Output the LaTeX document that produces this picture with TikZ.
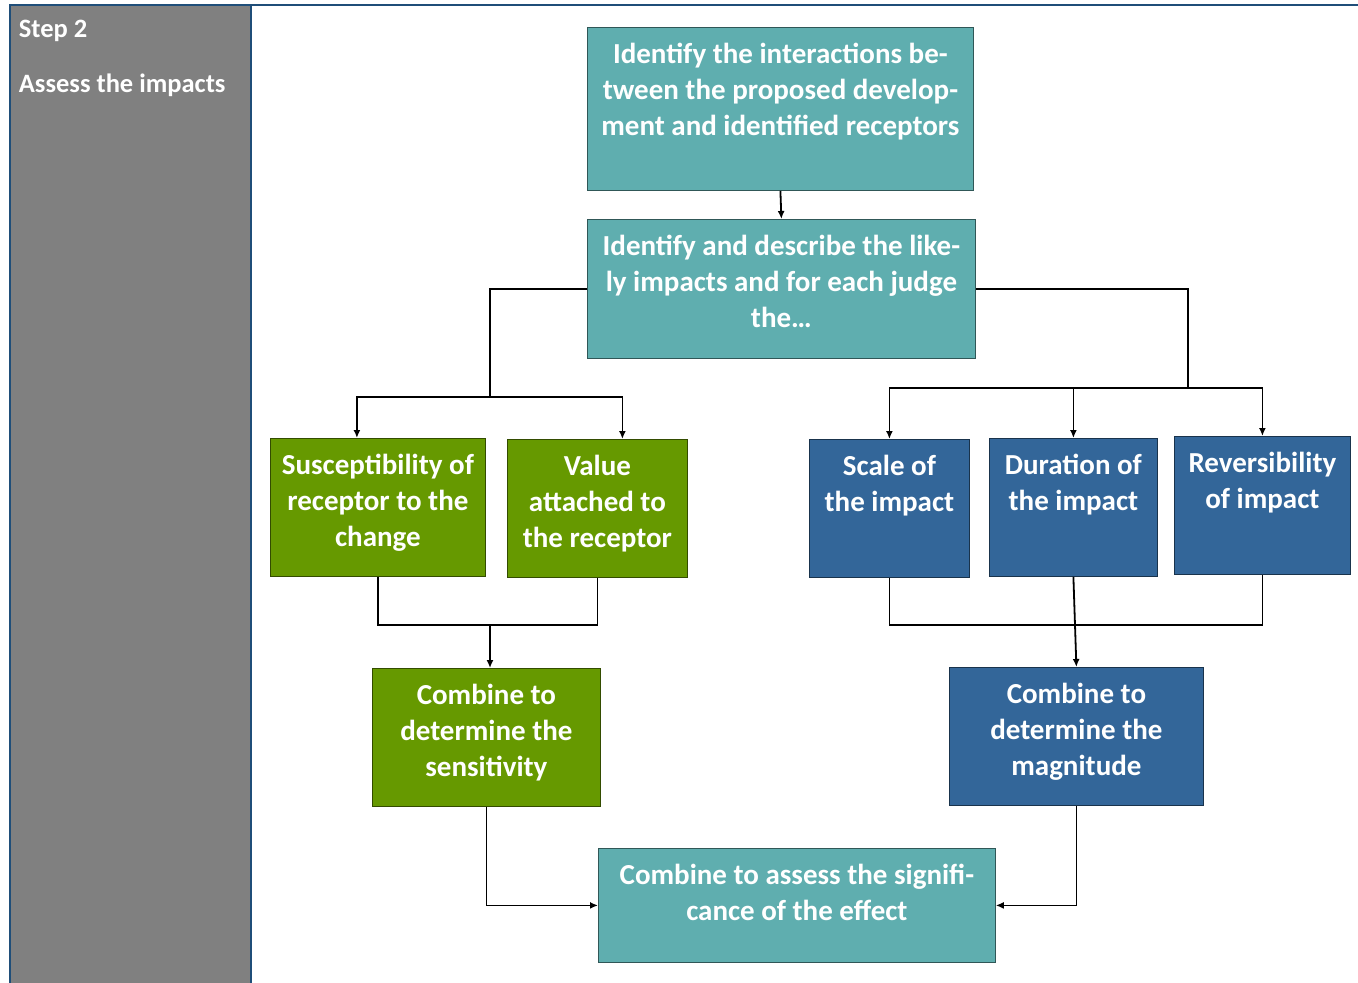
\documentclass[tikz,border=0pt]{standalone}
\usepackage{fontspec}
\setmainfont{Carlito}
\usetikzlibrary{arrows.meta}

\definecolor{tealfill}{HTML}{5FAEAF}
\definecolor{greenfill}{HTML}{669900}
\definecolor{bluefill}{HTML}{336699}
\definecolor{frameblue}{HTML}{1F4E79}
\definecolor{panelgray}{HTML}{808080}

\newcommand{\boxtext}[3]{\parbox[c][#2][t]{#1}{\centering\rule{0pt}{36.5pt}#3}}

\tikzset{
 box/.style={draw=#1!50!black, line width=0.8pt, fill=#1, text=white, inner sep=0pt, anchor=north west,
   font=\bfseries\fontsize{29}{36}\selectfont},
 arr/.style={-{Latex[length=8pt,width=7pt]}},
 steptext/.style={anchor=west, text=white, inner sep=0pt, font=\bfseries\fontsize{26.5}{30}\selectfont},
}

\begin{document}
\begin{tikzpicture}[x=1pt,y=-1pt,line width=1.8pt]
 \useasboundingbox (0,0) rectangle (1358,983);
 % left panel and frame
 \fill[panelgray] (10,5) rectangle (251,983);
 \draw[frameblue,line width=2.2pt] (10,983) -- (10,5) -- (1358,5);
 \draw[frameblue,line width=2.2pt] (251,5) -- (251,983);
 \node[steptext] (steplbl) at (18,31) {Step 2};
 \node[steptext] (assess) at (18,85) {Assess the impacts};

 % boxes
 \node[box=tealfill] (ident) at (587,27) {\boxtext{386pt}{163pt}{Identify the interactions be-\\tween the proposed develop-\\ment and identified receptors}};
 \node[box=tealfill] (judge) at (587,219) {\boxtext{388pt}{139pt}{Identify and describe the like-\\ly impacts and for each judge\\the…}};
 \node[box=greenfill] (suscept) at (270,438) {\boxtext{215pt}{138pt}{Susceptibility of\\receptor to the\\change}};
 \node[box=greenfill] (value) at (507,439) {\boxtext{180pt}{138pt}{Value\\attached to\\the receptor}};
 \node[box=bluefill] (scale) at (809,439) {\boxtext{160pt}{138pt}{Scale of\\the impact}};
 \node[box=bluefill] (duration) at (989,438) {\boxtext{168pt}{138pt}{Duration of\\the impact}};
 \node[box=bluefill] (rev) at (1174,436) {\boxtext{176pt}{138pt}{Reversibility\\of impact}};
 \node[box=greenfill] (sens) at (372,668) {\boxtext{228pt}{138pt}{Combine to\\determine the\\sensitivity}};
 \node[box=bluefill] (magn) at (949,667) {\boxtext{254pt}{138pt}{Combine to\\determine the\\magnitude}};
 \node[box=tealfill] (signif) at (598,848) {\boxtext{397pt}{114pt}{Combine to assess the signifi-\\cance of the effect}};

 % connectors
 \coordinate (lsplit) at (490,397);
 \coordinate (rsplit) at (1188,388);
 \coordinate (gjoin) at (490,625);
 \coordinate (bjoin) at (1075,625);
 \draw[arr] (ident.south) -- (judge.north);
 \draw (judge.west) -| (lsplit);
 \draw[arr] (lsplit) -| ([xshift=-21pt]suscept.north);
 \draw[arr] (lsplit) -| ([xshift=25pt]value.north);
 \draw (judge.east) -| (rsplit);
 \draw[arr] (rsplit) -| (scale.north);
 \draw[arr] (rsplit) -| (duration.north);
 \draw[arr] (rsplit) -| (rev.north);
 \draw (suscept.south) |- (gjoin) -| (value.south);
 \draw[arr] (gjoin) -- (gjoin |- sens.north);
 \draw (scale.south) |- (bjoin) -| (rev.south);
 \draw[arr] (duration.south) -- (magn.north);
 \draw[arr] (sens.south) |- (signif.west);
 \draw[arr] (magn.south) |- (signif.east);
\end{tikzpicture}
\end{document}
